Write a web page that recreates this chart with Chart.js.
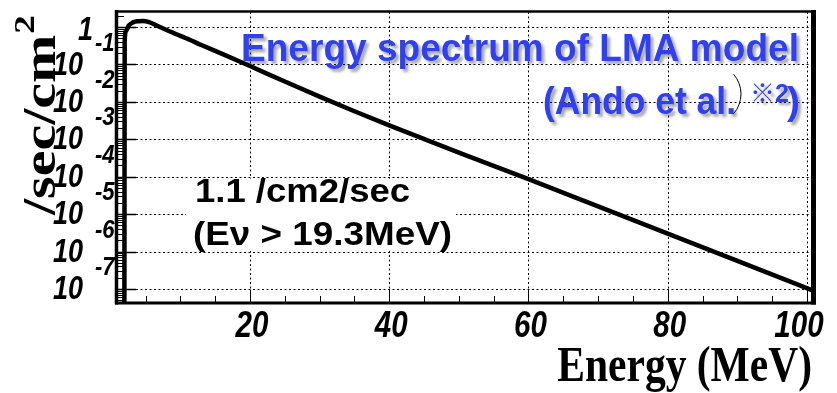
<!DOCTYPE html>
<html lang="ja">
<head>
  <title>Energy spectrum of LMA model</title>
  <script type="text/javascript" src="https://cdn.jsdelivr.net/npm/chart.js"></script>
  <style>
    body { margin: 0; background: #fff; }
  </style>
</head>
<body>
<canvas id="spec" width="837" height="393"></canvas>

<script>
  // Spectrum sampled along the curve (MeV, /sec/cm2)
  const energy = [1.95, 2.0, 2.2, 2.6, 3.2, 4.0, 4.6, 5.5, 6.6, 8.5, 11.4, 13, 16, 20, 25, 30, 35, 40, 50, 60, 70, 80, 90, 100.7];
  const flux = [1e-9, 0.4, 0.8, 1.1, 1.33, 1.43, 1.45, 1.36, 1.1, 0.76, 0.45, 0.331, 0.191, 0.0906, 0.0349, 0.0138, 5.62e-3, 2.35e-3, 4.4e-4, 8.6e-5, 1.61e-5, 3.01e-6, 5.64e-7, 9.3e-8];

  // axis ticks
  const xTicks = [20, 40, 60, 80, 100];
  const xMinorStep = 5;
  const yExponents = [0, -1, -2, -3, -4, -5, -6, -7];

  // texts
  const xTitle = 'Energy (MeV)';
  const yTitle = '/sec/cm';
  const yTitleSup = '2';
  const modelTitle = 'Energy spectrum of LMA model';
  const modelRef = '(Ando et al.';
  const modelRefMark = '※2';
  const rateLine1 = '1.1 /cm2/sec';
  const rateLine2 = '(Eν > 19.3MeV)';

  // draw text squeezed or stretched horizontally
  function drawText(c, text, x, y, font, align, sx, color) {
    c.save();
    c.font = font;
    c.fillStyle = color || '#000';
    c.textAlign = align;
    c.translate(x, y);
    c.scale(sx, 1);
    c.fillText(text, 0, 0);
    c.restore();
  }

  // draw text fitted to a width
  function drawFit(c, text, x, y, font, align, width, color) {
    c.save();
    c.font = font;
    const sx = width / c.measureText(text).width;
    c.restore();
    drawText(c, text, x, y, font, align, sx, color);
  }

  const framePlugin = {
    id: 'rootFrame',
    beforeDatasetsDraw(chart) {
      const c = chart.ctx, a = chart.chartArea;
      const xs = chart.scales.x, ys = chart.scales.y;
      c.save();
      c.strokeStyle = '#000';
      c.lineWidth = 1;
      c.setLineDash([2, 2.5]);
      yExponents.forEach(e => {
        const y = Math.round(ys.getPixelForValue(Math.pow(10, e))) + 0.5;
        c.beginPath(); c.moveTo(a.left, y); c.lineTo(a.right, y); c.stroke();
      });
      xTicks.forEach(v => {
        const x = Math.round(xs.getPixelForValue(v)) + 0.5;
        c.beginPath(); c.moveTo(x, a.top); c.lineTo(x, a.bottom); c.stroke();
      });
      c.restore();
    },
    afterDraw(chart) {
      const c = chart.ctx, a = chart.chartArea;
      const xs = chart.scales.x, ys = chart.scales.y;
      c.save();
      c.strokeStyle = '#000';

      // log minor and major ticks on the left side
      for (let n = -8; n <= 0; n++) {
        for (let k = 1; k <= 9; k++) {
          const v = k * Math.pow(10, n);
          if (v < ys.min || v > ys.max) continue;
          const y = Math.round(ys.getPixelForValue(v)) + 0.5;
          c.lineWidth = k === 1 ? 1.5 : 1;
          c.beginPath(); c.moveTo(a.left, y); c.lineTo(a.left + (k === 1 ? 18 : 6), y); c.stroke();
        }
      }
      // bottom ticks
      for (let v = xMinorStep; v <= xs.max; v += xMinorStep) {
        const x = Math.round(xs.getPixelForValue(v)) + 0.5;
        const major = xTicks.includes(v);
        c.lineWidth = 1;
        c.beginPath(); c.moveTo(x, a.bottom); c.lineTo(x, a.bottom - (major ? 12 : 6)); c.stroke();
      }

      // frame
      c.lineWidth = 2.5;
      c.beginPath(); c.moveTo(a.left - 3, a.top - 0.5); c.lineTo(a.right + 4, a.top - 0.5); c.stroke();
      c.lineWidth = 3;
      c.beginPath(); c.moveTo(a.left - 3, a.bottom + 1); c.lineTo(a.right + 4, a.bottom + 1); c.stroke();
      c.lineWidth = 3.5;
      c.beginPath(); c.moveTo(a.left - 1.5, a.top - 2); c.lineTo(a.left - 1.5, a.bottom + 2.5); c.stroke();
      c.lineWidth = 5;
      c.beginPath(); c.moveTo(a.right + 1.5, a.top - 2); c.lineTo(a.right + 1.5, a.bottom + 2.5); c.stroke();
      c.restore();

      // tick labels
      const tickFont = 'italic bold 36px "Liberation Sans", Arial, sans-serif';
      c.textBaseline = 'middle';
      xTicks.forEach(v => {
        const x = xs.getPixelForValue(v);
        drawText(c, String(v), v === 100 ? x - 8 : x + 2, a.bottom + 25, tickFont, 'center', 0.82);
      });
      const yFont = 'italic bold 33px "Liberation Sans", Arial, sans-serif';
      const expFont = 'italic bold 26px "Liberation Sans", Arial, sans-serif';
      yExponents.forEach(e => {
        const y = ys.getPixelForValue(Math.pow(10, e));
        if (e === 0) {
          drawText(c, '1', a.left - 25, y + 4, yFont, 'right', 0.82);
        } else {
          drawText(c, '10', a.left - 35, y + 1, yFont, 'right', 0.82);
          drawText(c, String(e), a.left - 23, y - 21, expFont, 'left', 0.85);
        }
      });

      // axis titles
      c.textBaseline = 'alphabetic';
      drawText(c, xTitle, a.right, 381, 'bold 50px "Liberation Serif", "Times New Roman", serif', 'right', 0.83);

      c.save();
      c.font = 'bold 58px "Liberation Serif", "Times New Roman", serif';
      c.translate(55, 215);
      c.rotate(-Math.PI / 2);
      c.scale(1, 0.8);
      c.textAlign = 'left';
      c.fillStyle = '#000';
      c.fillText(yTitle, 0, 0);
      const w = c.measureText(yTitle).width;
      c.font = 'bold 37px "Liberation Serif", "Times New Roman", serif';
      c.fillText(yTitleSup, w + 1, -26);
      c.restore();

      // model caption with drop shadow
      const blue = '#2f3ff2';
      c.save();
      c.shadowColor = 'rgba(0,0,0,0.35)';
      c.shadowOffsetX = 3;
      c.shadowOffsetY = 3;
      c.shadowBlur = 3;
      const capFont = 'bold 39px "Liberation Sans", Arial, sans-serif';
      drawFit(c, modelTitle, 799, 61, capFont, 'right', 558, blue);
      drawFit(c, modelRef, 543, 114, capFont, 'left', 193, blue);
      drawText(c, modelRefMark, 750, 102, 'bold 25px "Liberation Sans", "Noto Sans CJK JP", sans-serif', 'left', 1, blue);
      drawText(c, ')', 800, 114, capFont, 'right', 1, blue);
      c.restore();
      c.save();
      c.strokeStyle = '#000';
      c.lineWidth = 1;
      c.beginPath(); c.arc(711, 94, 30, -0.72, 0.72); c.stroke();
      c.restore();

      // integrated rate box
      c.save();
      c.fillStyle = '#fff';
      c.fillRect(186, 179, 270, 72);
      c.restore();
      const rateFont = 'bold 34px "Liberation Sans", Arial, sans-serif';
      drawFit(c, rateLine1, 195, 202, rateFont, 'left', 215);
      drawFit(c, rateLine2, 193, 245, rateFont, 'left', 259);
    }
  };

  const ctx = document.getElementById('spec').getContext('2d');
  new Chart(ctx, {
    type: 'line',
    data: {
      datasets: [{
        data: energy.map((e, i) => ({ x: e, y: flux[i] })),
        borderColor: '#000',
        borderWidth: 4.5,
        pointRadius: 0,
        cubicInterpolationMode: 'monotone',
        fill: false
      }]
    },
    options: {
      responsive: false,
      animation: false,
      layout: { padding: { left: 118, top: 12, right: 25, bottom: 91 } },
      scales: {
        x: { type: 'linear', min: 1.04, max: 100.72, display: false },
        y: { type: 'logarithmic', min: 4.5e-8, max: 2.52, display: false }
      },
      plugins: { legend: { display: false }, tooltip: { enabled: false } }
    },
    plugins: [framePlugin]
  });
</script>
</body>
</html>
